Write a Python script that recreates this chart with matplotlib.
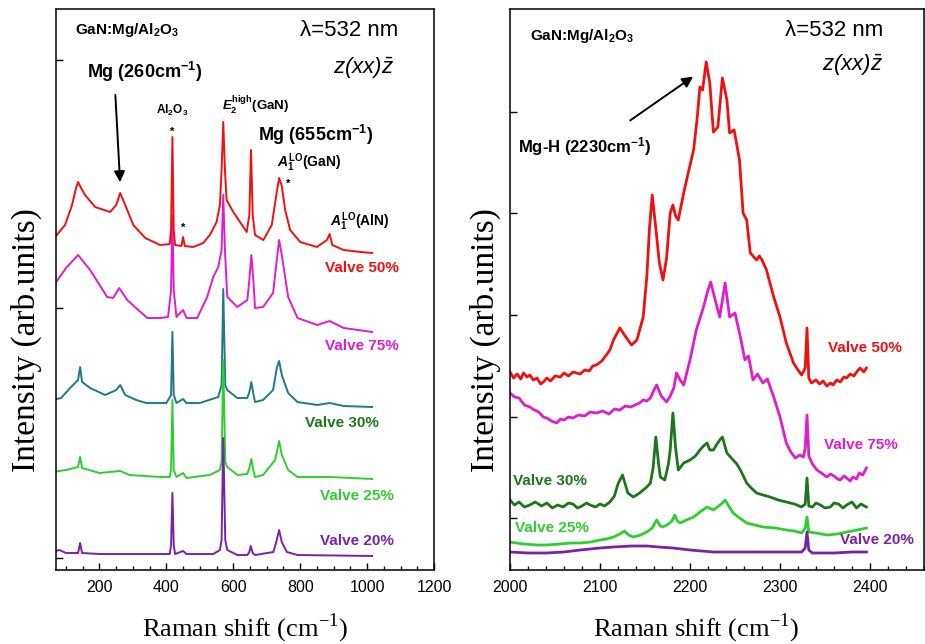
import matplotlib
matplotlib.use("Agg")
import matplotlib.pyplot as plt
from matplotlib.ticker import MultipleLocator, FixedLocator

plt.rcParams['font.family'] = ['Liberation Sans', 'DejaVu Sans']
plt.rcParams['mathtext.fontset'] = 'custom'
plt.rcParams['mathtext.it'] = 'Liberation Sans:bold:italic'
plt.rcParams['mathtext.rm'] = 'Liberation Sans'
plt.rcParams['mathtext.bf'] = 'Liberation Sans:bold'

# colours
rood = "#f01010"
magenta = "#e01ccc"
teal = "#1f7a86"
donkergroen = "#1c761c"
groen = "#2fce2f"
paars = "#7a22a6"

# ---------------- left panel (100 - 1000 cm-1), offset intensities ----------------
x_l50 = [60, 97, 118, 130, 136, 145, 157, 187, 232, 250, 262, 277, 301, 337, 381, 410, 414, 418, 422, 426,
         445, 450, 455, 480, 510, 530, 550, 560, 565, 570, 575, 580, 600, 620, 640, 648, 653, 658, 665, 690,
         715, 730, 737, 745, 755, 770, 800, 850, 880, 888, 896, 930, 980, 1015]
y_l50 = [328, 343, 363, 380, 386, 380, 373, 361, 356, 363, 375, 363, 343, 330, 323, 324, 338, 431, 338, 323,
         322, 331, 322, 321, 325, 333, 346, 363, 398, 446, 398, 368, 356, 346, 336, 353, 418, 353, 333, 328,
         343, 376, 390, 382, 358, 338, 326, 321, 328, 334, 323, 318, 316, 315]

x_l75 = [60, 100, 136, 172, 223, 241, 259, 283, 316, 343, 381, 405, 414, 418, 422, 430, 450, 460, 492, 522,
         540, 555, 565, 570, 575, 582, 612, 642, 648, 654, 660, 665, 689, 719, 730, 737, 745, 764, 792, 851,
         888, 930, 1015]
y_l75 = [281, 300, 313, 298, 271, 270, 280, 268, 258, 250, 250, 251, 278, 353, 278, 251, 258, 250, 250, 271,
         291, 301, 318, 373, 318, 271, 261, 268, 288, 313, 288, 260, 261, 275, 308, 328, 313, 271, 250, 243,
         247, 240, 236]

x_l30 = [60, 85, 115, 136, 142, 148, 172, 217, 250, 262, 277, 310, 340, 400, 414, 418, 422, 430, 450, 460,
         500, 555, 565, 570, 576, 582, 612, 642, 648, 654, 660, 665, 689, 719, 730, 737, 745, 764, 792, 851,
         888, 930, 1015]
y_l30 = [168, 170, 181, 188, 201, 186, 180, 173, 178, 183, 173, 168, 165, 165, 173, 236, 173, 165, 169, 165,
         165, 171, 183, 279, 183, 178, 170, 170, 176, 186, 174, 166, 168, 178, 200, 207, 193, 175, 166, 163,
         165, 162, 161]

x_l25 = [60, 100, 136, 142, 148, 200, 262, 290, 381, 410, 414, 418, 422, 430, 450, 460, 530, 560, 565, 570,
         576, 582, 612, 642, 648, 654, 660, 665, 689, 725, 737, 745, 764, 792, 890, 1015]
y_l25 = [96, 98, 101, 111, 100, 95, 97, 93, 91, 91, 98, 168, 98, 91, 95, 90, 93, 98, 106, 208,
         106, 101, 93, 94, 100, 109, 98, 91, 93, 108, 127, 113, 98, 91, 91, 89]

x_l20 = [60, 80, 100, 136, 142, 148, 200, 381, 410, 414, 418, 422, 426, 450, 460, 540, 560, 565, 570, 576,
         582, 612, 642, 648, 652, 658, 665, 720, 730, 737, 745, 760, 792, 1015]
y_l20 = [16, 18, 15, 15, 25, 15, 14, 14, 14, 23, 75, 23, 14, 17, 14, 14, 18, 28, 130, 28,
         18, 13, 13, 16, 22, 15, 13, 16, 28, 38, 26, 16, 13, 12]

# ---------------- right panel (2000 - 2400 cm-1) ----------------
x_r50 = [2000, 2004, 2008, 2012, 2015, 2019, 2022, 2026, 2030, 2034, 2037, 2041, 2045, 2050, 2056, 2060, 2065,
         2070, 2078, 2083, 2088, 2092, 2096, 2102, 2107, 2111, 2115, 2122, 2128, 2135, 2141, 2148, 2152, 2155,
         2158, 2162, 2166, 2170, 2174, 2178, 2181, 2184, 2187, 2193, 2198, 2204, 2208, 2211, 2214, 2218, 2222,
         2226, 2231, 2236, 2241, 2244, 2249, 2255, 2259, 2263, 2267, 2274, 2277, 2280, 2285, 2293, 2300, 2307,
         2315, 2320, 2324, 2328, 2330, 2332, 2335, 2340, 2344, 2348, 2352, 2356, 2359, 2363, 2367, 2371, 2374,
         2378, 2382, 2386, 2389, 2393, 2396]
y_r50 = [196, 190, 194, 189, 195, 191, 193, 188, 190, 184, 186, 190, 187, 192, 191, 195, 192,
         196, 194, 198, 197, 202, 203, 207, 213, 218, 228, 240, 232, 223, 228, 251, 291, 340,
         373, 340, 305, 288, 310, 355, 363, 352, 348, 375, 395, 418, 450, 481, 478, 506, 485,
         436, 441, 490, 468, 435, 438, 408, 355, 348, 315, 308, 312, 308, 298, 271, 251, 225,
         205, 198, 193, 200, 240, 190, 185, 188, 184, 187, 182, 185, 183, 188, 186, 191, 190,
         194, 192, 197, 200, 196, 200]

x_r75 = [2000, 2005, 2010, 2016, 2022, 2027, 2032, 2037, 2041, 2046, 2052, 2056, 2060, 2065, 2070, 2076, 2083,
         2089, 2096, 2103, 2110, 2116, 2122, 2128, 2134, 2139, 2144, 2148, 2152, 2156, 2160, 2163, 2168, 2174,
         2178, 2182, 2185, 2189, 2193, 2200, 2207, 2215, 2220, 2223, 2228, 2233, 2236, 2239, 2244, 2250, 2256,
         2261, 2265, 2270, 2275, 2281, 2286, 2293, 2300, 2307, 2312, 2317, 2322, 2326, 2328, 2330, 2332, 2336,
         2341, 2346, 2352, 2356, 2360, 2364, 2367, 2371, 2374, 2378, 2381, 2385, 2388, 2392, 2396]
y_r75 = [175, 171, 170, 163, 161, 158, 156, 151, 150, 147, 145, 149, 148, 151, 150, 153, 152,
         156, 155, 157, 154, 159, 158, 162, 161, 163, 165, 168, 167, 170, 178, 183, 172, 166,
         172, 180, 195, 188, 183, 208, 238, 261, 278, 286, 268, 251, 268, 285, 251, 255, 231,
         208, 212, 188, 194, 185, 189, 171, 151, 125, 116, 110, 113, 111, 120, 153, 112, 104,
         98, 95, 91, 94, 92, 89, 88, 92, 90, 87, 91, 89, 95, 93, 100]

x_r30 = [2000, 2005, 2010, 2016, 2022, 2028, 2035, 2041, 2047, 2053, 2059, 2065, 2070, 2075, 2080, 2085, 2089,
         2095, 2100, 2105, 2111, 2116, 2120, 2125, 2128, 2131, 2137, 2144, 2148, 2152, 2156, 2159, 2162, 2165,
         2167, 2172, 2176, 2178, 2181, 2184, 2187, 2193, 2200, 2206, 2211, 2215, 2219, 2222, 2226, 2230, 2233,
         2236, 2241, 2248, 2252, 2256, 2263, 2268, 2274, 2281, 2289, 2298, 2307, 2316, 2324, 2328, 2330, 2332,
         2336, 2340, 2345, 2350, 2356, 2360, 2365, 2370, 2374, 2380, 2385, 2390, 2396]
y_r30 = [68, 63, 66, 61, 63, 66, 62, 65, 60, 63, 61, 65, 64, 60, 62, 65, 63,
         61, 64, 62, 66, 72, 84, 93, 84, 75, 71, 75, 78, 81, 85, 100, 131, 105,
         91, 88, 104, 118, 155, 120, 98, 105, 108, 112, 118, 122, 125, 118, 118, 124, 128,
         131, 115, 108, 104, 98, 85, 80, 75, 73, 71, 68, 66, 64, 61, 64, 90, 62,
         61, 65, 63, 60, 61, 65, 64, 60, 63, 66, 60, 64, 61]

x_r25 = [2000, 2015, 2030, 2041, 2055, 2068, 2078, 2090, 2100, 2107, 2115, 2122, 2127, 2132, 2137, 2145, 2152,
         2158, 2163, 2167, 2170, 2176, 2180, 2183, 2186, 2189, 2196, 2204, 2211, 2219, 2226, 2232, 2236, 2239,
         2243, 2248, 2255, 2263, 2272, 2281, 2295, 2307, 2316, 2324, 2328, 2330, 2332, 2340, 2352, 2364, 2374,
         2386, 2396]
y_r25 = [26, 24, 23, 23, 24, 25, 25, 26, 28, 29, 31, 34, 37, 33, 31, 33, 36,
         40, 48, 42, 41, 44, 47, 53, 47, 45, 48, 51, 56, 61, 58, 62, 65, 68,
         62, 55, 50, 45, 43, 41, 40, 38, 37, 35, 40, 51, 36, 35, 33, 34, 36,
         38, 40]

x_r20 = [2000, 2020, 2041, 2060, 2078, 2100, 2115, 2135, 2152, 2165, 2181, 2200, 2226, 2255, 2281, 2305, 2324,
         2328, 2330, 2332, 2336, 2360, 2380, 2396]
y_r20 = [16, 15, 15, 16, 18, 20, 21, 22, 22, 21, 20, 18, 16, 16, 16, 16, 16,
         20, 36, 18, 15, 15, 16, 16]

# ---------------- figure ----------------
fig = plt.figure(figsize=(9.25, 6.44), dpi=100)
ax1 = fig.add_axes([56 / 925, 74 / 644, 378 / 925, 561 / 644])
ax2 = fig.add_axes([510 / 925, 74 / 644, 414 / 925, 561 / 644])

# left spectra (magenta under red, green over teal, purple on top)
ax1.plot(x_l75, y_l75, color=magenta, lw=1.4)
ax1.plot(x_l50, y_l50, color=rood, lw=1.4)
ax1.plot(x_l30, y_l30, color=teal, lw=1.4)
ax1.plot(x_l25, y_l25, color=groen, lw=1.4)
ax1.plot(x_l20, y_l20, color=paars, lw=1.4)

ax2.plot(x_r50, y_r50, color=rood, lw=2.0)
ax2.plot(x_r75, y_r75, color=magenta, lw=2.0)
ax2.plot(x_r30, y_r30, color=donkergroen, lw=2.0)
ax2.plot(x_r25, y_r25, color=groen, lw=2.0)
ax2.plot(x_r20, y_r20, color=paars, lw=2.0)

ax1.set_xlim(70, 1200)
ax2.set_xlim(2000, 2460)
for ax in (ax1, ax2):
    ax.set_ylim(-2, 559)
    ax.tick_params(direction='in', which='both', labelsize=11.5, pad=7)
    ax.tick_params(which='major', length=5, width=1)
    ax.tick_params(which='minor', length=3, width=1)
    ax.tick_params(axis='y', labelleft=False)
    for s in ax.spines.values():
        s.set_linewidth(1.1)
    ax.set_xlabel('Raman shift (cm$^{\\mathregular{-1}}$)', family='Liberation Serif', fontsize=19)
    ax.set_ylabel('Intensity (arb.units)', family='Liberation Serif', fontsize=24)

ax1.xaxis.set_major_locator(FixedLocator([200, 400, 600, 800, 1000, 1200]))
ax1.xaxis.set_minor_locator(MultipleLocator(50))
ax1.yaxis.set_major_locator(FixedLocator([10, 260, 508]))
ax2.xaxis.set_major_locator(MultipleLocator(100))
ax2.xaxis.set_minor_locator(MultipleLocator(20))
ax2.yaxis.set_major_locator(FixedLocator([50, 151, 253, 355, 456]))

ax1.xaxis.set_label_coords(0.5, -0.075)
ax2.xaxis.set_label_coords(0.45, -0.075)
ax1.yaxis.set_label_coords(-0.038, 0.41)
ax2.yaxis.set_label_coords(-0.022, 0.41)

# valve labels
kw = dict(fontsize=11, fontweight='bold', va='center', ha='left')
ax1.text(875, 300, 'Valve 50%', color=rood, **kw)
ax1.text(875, 222, 'Valve 75%', color=magenta, **kw)
ax1.text(815, 145, 'Valve 30%', color=donkergroen, **kw)
ax1.text(860, 72, 'Valve 25%', color=groen, **kw)
ax1.text(860, 27, 'Valve 20%', color=paars, **kw)

ax2.text(2353, 220, 'Valve 50%', color=rood, **kw)
ax2.text(2349, 123, 'Valve 75%', color=magenta, **kw)
ax2.text(2003, 87, 'Valve 30%', color=donkergroen, **kw)
ax2.text(2006, 40, 'Valve 25%', color=groen, **kw)
ax2.text(2367, 28, 'Valve 20%', color=paars, clip_on=False, **kw)

# annotations left
ax1.text(127, 538, 'GaN:Mg/Al$_\\mathregular{2}$O$_\\mathregular{3}$', fontsize=11, fontweight='bold', va='center')
ax1.text(800, 538, '\u03bb=532 nm', fontsize=16, va='center')
ax1.text(898, 500, '$\\mathregular{z(xx)}\\bar{\\mathregular{z}}$', fontsize=16, style='italic', va='center')
ax1.text(163, 496, 'Mg (260cm$^\\mathregular{-1}$)', fontsize=13, fontweight='bold', va='center')
ax1.annotate('', xy=(262, 383), xytext=(247, 476),
             arrowprops=dict(arrowstyle='-|>', color='k', lw=1.4, mutation_scale=16))
ax1.text(418, 458, 'Al$_\\mathregular{2}$O$_\\mathregular{3}$', fontsize=8.5, fontweight='bold', ha='center', va='center')
ax1.text(567, 463, '$\\mathit{E}_\\mathregular{2}^\\mathregular{high}$(GaN)', fontsize=9.5, fontweight='bold', va='center')
ax1.text(674, 433, 'Mg (655cm$^\\mathregular{-1}$)', fontsize=13, fontweight='bold', va='center')
ax1.text(731, 405, '$\\mathit{A}_\\mathregular{1}^\\mathregular{LO}$(GaN)', fontsize=10, fontweight='bold', va='center')
ax1.text(890, 346, '$\\mathit{A}_\\mathregular{1}^\\mathregular{LO}$(AlN)', fontsize=10, fontweight='bold', va='center')
for sx, sy in [(418, 436), (764, 384), (450, 340)]:
    ax1.text(sx, sy, '*', fontsize=8, fontweight='bold', ha='center', va='center')

# annotations right
ax2.text(2022, 532, 'GaN:Mg/Al$_\\mathregular{2}$O$_\\mathregular{3}$', fontsize=11, fontweight='bold', va='center')
ax2.text(2306, 538, '\u03bb=532 nm', fontsize=16, va='center')
ax2.text(2347, 503, '$\\mathregular{z(xx)}\\bar{\\mathregular{z}}$', fontsize=16, style='italic', va='center')
ax2.text(2009, 421, 'Mg-H (2230cm$^\\mathregular{-1}$)', fontsize=12, fontweight='bold', va='center')
ax2.annotate('', xy=(2206, 493), xytext=(2131, 446),
             arrowprops=dict(arrowstyle='-|>', color='k', lw=1.4, mutation_scale=16))

plt.savefig('out.png', dpi=100)
